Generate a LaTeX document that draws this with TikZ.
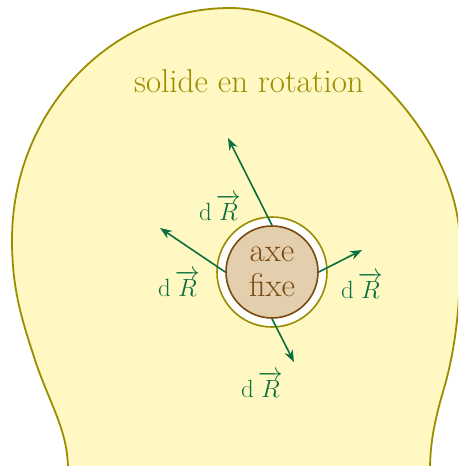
\documentclass[tikz,border=0pt]{standalone}
\usepackage{amsmath}
\usepackage{xcolor}
\definecolor{jaune}{HTML}{FFF8C2}
\definecolor{kaki}{HTML}{9A8E00}
\definecolor{brun}{HTML}{7A4A0F}
\definecolor{beige}{HTML}{E3CFAE}
\definecolor{vert}{HTML}{0A7040}
\usepackage{tikz}
\usetikzlibrary{arrows.meta}
\tikzset{
  >={Stealth[length=12pt,width=9pt]},
  solide/.style ={draw=kaki,fill=jaune,line width=1.8pt},
  bague/.style  ={circle,draw=kaki,fill=white,line width=1.6pt,
                  minimum size=110pt,inner sep=0pt},
  axe/.style    ={circle,draw=brun,fill=beige,line width=1.6pt,
                  minimum size=92pt,inner sep=0pt,text=brun,align=center,
                  font=\fontsize{33}{35}\selectfont},
  titre/.style  ={text=kaki,font=\fontsize{33}{38}\selectfont,inner sep=0pt},
  lbl/.style    ={text=vert,font=\fontsize{30}{35}\selectfont,inner sep=0pt},
  force/.style  ={->,draw=vert,line width=1.6pt},
}
\newcommand{\dR}{$\mathrm{d}\,\overrightarrow{R}$}

\begin{document}
\begin{tikzpicture}[x=1pt,y=-1pt]
\useasboundingbox (0,0) rectangle (458,466);
\clip (0,0) rectangle (458,466);
% solid
\path[solide] (68,470) .. controls (68,430) and (50,405) .. (35,360)
  .. controls (22,320) and (12,290) .. (12,240)
  .. controls (12,112) and (110,8) .. (230,8)
  .. controls (330,8) and (460,130) .. (460,245)
  .. controls (461,300) and (456,345) .. (445,385)
  .. controls (436,415) and (430,440) .. (430,470) -- cycle;
\node[titre,anchor=base] (titre) at (249,92) {solide en rotation};
% axis
\node[bague] (bague) at (272,272) {};
\node[axe] (axe) at (272,272) {axe\\fixe};
% forces
\coordinate (fh) at (228,138);
\coordinate (fg) at (160,228);
\coordinate (fd) at (362,250);
\coordinate (fb) at (294,362);
\draw[force] (axe.north) -- (fh);
\draw[force] (axe.west) -- (fg);
\draw[force] (axe.east) -- (fd);
\draw[force] (axe.south) -- (fb);
\node[lbl,anchor=base] (lh) at (220,220) {\dR};
\node[lbl,anchor=base] (lg) at (179,296) {\dR};
\node[lbl,anchor=base] (ld) at (362,298) {\dR};
\node[lbl,anchor=base] (lb) at (262,397) {\dR};
\end{tikzpicture}
\end{document}
